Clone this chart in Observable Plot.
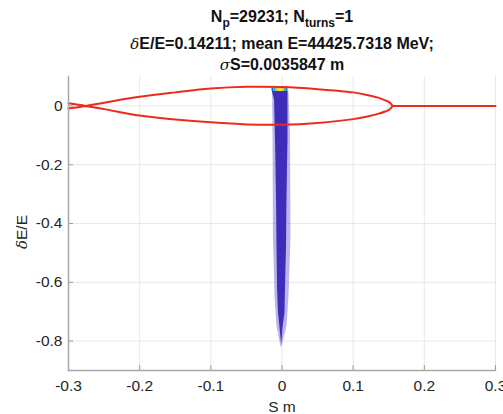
<!DOCTYPE html>
<html><head><meta charset="utf-8">
<script src="https://cdn.jsdelivr.net/npm/d3@7"></script>
<script src="https://cdn.jsdelivr.net/npm/@observablehq/plot@0.6"></script>
<style>
body{margin:0;background:#fff;}
#wrap{position:relative;width:503px;height:414px;overflow:hidden;font-family:"Liberation Sans",Arial,Helvetica,sans-serif;color:#262626;}
.tl{position:absolute;left:0;width:564px;text-align:center;font-weight:bold;font-size:16px;line-height:16px;white-space:nowrap;color:#111;}
.tl sub{font-size:12px;vertical-align:-5px;line-height:0;}
.g{font-family:"DejaVu Serif","Liberation Serif",serif;font-style:italic;font-weight:normal;font-size:15px;}
#xl{position:absolute;left:0;width:564px;text-align:center;top:399px;font-size:15.5px;line-height:16px;}
#yl{position:absolute;left:10px;top:230px;width:60px;text-align:center;font-size:15.5px;line-height:16px;transform-origin:0 0;transform:translate(4px,32px) rotate(-90deg);}
svg{position:absolute;left:0;top:0;}
</style>
</head><body>
<div id="wrap"></div>
<script>
// Axis ticks
const xTicks = [-0.3, -0.2, -0.1, 0, 0.1, 0.2, 0.3];
const yTicks = [0, -0.2, -0.4, -0.6, -0.8];

// Separatrix: s positions, upper and lower branch δE/E
const sepS     = [-0.3, -0.276, -0.25, -0.2, -0.15, -0.1, -0.05, 0, 0.05, 0.1, 0.12, 0.135, 0.145, 0.151, 0.155];
const sepUpper = [-0.009, 0, 0.011, 0.031, 0.046, 0.059, 0.065, 0.064, 0.057, 0.046, 0.037, 0.028, 0.019, 0.012, 0];
const sepLower = [0.009, 0, -0.011, -0.033, -0.046, -0.056, -0.063, -0.064, -0.058, -0.045, -0.036, -0.027, -0.019, -0.012, 0];
// Flat tail to the right of the bucket
const tailS = [0.155, 0.3];
const tailD = [0, 0];

// Particle cloud profile (dense core): δE/E and left/right extent in S
const cloudD = [0.049, 0.02, -0.114, -0.316, -0.485, -0.62, -0.704, -0.754, -0.81];
const cloudL = [-0.0135, -0.0105, -0.0091, -0.0077, -0.007, -0.0063, -0.0049, -0.0028, -0.0006];
const cloudR = [0.0085, 0.0084, 0.0084, 0.007, 0.0063, 0.0049, 0.0042, 0.0014, -0.0004];
// Sparse outer fringe
const fringeD = [0.05, -0.1, -0.45, -0.65, -0.75, -0.82];
const fringeL = [-0.0133, -0.0126, -0.012, -0.0098, -0.007, -0.0014];
const fringeR = [0.0098, 0.012, 0.0126, 0.0098, 0.007, 0.0];
// Dense top band cells (density 0..1)
const binW = 0.0028;
const topS = [-0.0127, -0.0098, -0.0070, -0.0042, -0.0014, 0.0014, 0.0042, 0.0070];
const topDensity = [0.2, 0.45, 0.7, 0.9, 0.97, 0.85, 0.55, 0.25];
const topD1 = 0.049, topD2 = 0.061;

const parulaDomain = [0, 0.125, 0.25, 0.375, 0.5, 0.625, 0.75, 0.875, 1];
const parulaRange = ["#3e26a8", "#0f5cdd", "#1481d6", "#06a4ca", "#2eb7a4", "#87bf77", "#d1bb59", "#fec832", "#f9fb0e"];

const sepPath = sepS.map((s, i) => ({s, d: sepUpper[i]}))
  .concat(sepS.map((s, i) => ({s, d: sepLower[i]})).slice(0, -1).reverse());
const tailRows = tailS.map((s, i) => ({s, d: tailD[i]}));
const cloudRows = cloudD.map((d, i) => ({d, l: cloudL[i], r: cloudR[i]}));
const fringeRows = fringeD.map((d, i) => ({d, l: fringeL[i], r: fringeR[i]}));
const topRows = topS.map((s, i) => ({s1: s - binW / 2, s2: s + binW / 2, v: topDensity[i]}));

const fmt = d => String(d);
const red = "#ee2a1c";
const blue = "#3f2db9";

const chart = Plot.plot({
  width: 503, height: 414,
  marginTop: 76, marginBottom: 44, marginLeft: 68, marginRight: 8,
  x: {domain: [-0.3, 0.3]},
  y: {domain: [-0.9, 0.1]},
  color: {type: "linear", domain: parulaDomain, range: parulaRange},
  style: {fontFamily: "Liberation Sans, Arial, sans-serif", fontSize: "15.5px", color: "#262626", background: "transparent", overflow: "visible"},
  marks: [
    Plot.gridX(xTicks, {stroke: "#e8e8e8", strokeOpacity: 1}),
    Plot.gridY(yTicks, {stroke: "#e8e8e8", strokeOpacity: 1}),
    Plot.areaX(fringeRows, {y: "d", x1: "l", x2: "r", fill: "#6a5cd0", fillOpacity: 0.45}),
    Plot.areaX(cloudRows, {y: "d", x1: "l", x2: "r", fill: blue}),
    Plot.rect(topRows, {x1: "s1", x2: "s2", y1: topD1, y2: topD2, fill: "v"}),
    Plot.line(sepPath, {x: "s", y: "d", stroke: red, strokeWidth: 2, curve: "catmull-rom"}),
    Plot.line(tailRows, {x: "s", y: "d", stroke: red, strokeWidth: 2}),
    Plot.axisX(xTicks, {tickSize: 0, tickPadding: 9, tickFormat: fmt, label: null}),
    Plot.axisX(xTicks, {tickSize: 5, text: null, dy: -5, stroke: "#9a9a9a", label: null}),
    Plot.axisY(yTicks, {tickSize: 0, tickPadding: 6, tickFormat: fmt, label: null}),
    Plot.axisY(yTicks, {tickSize: 5, text: null, dx: 5, stroke: "#9a9a9a", label: null}),
    Plot.frame({anchor: "left", stroke: "#a8a8a8", strokeWidth: 1.5}),
    Plot.frame({anchor: "bottom", stroke: "#a8a8a8", strokeWidth: 1.5})
  ]
});

const wrap = document.getElementById("wrap");
wrap.appendChild(chart);
wrap.insertAdjacentHTML("beforeend",
  '<div class="tl" style="top:9px">N<sub>p</sub>=29231; N<sub>turns</sub>=1</div>' +
  '<div class="tl" style="top:36px"><span class="g">δ</span>E/E=0.14211; mean E=44425.7318 MeV;</div>' +
  '<div class="tl" style="top:57px"><span class="g">σ</span>S=0.0035847 m</div>' +
  '<div id="xl">S m</div>' +
  '<div id="yl"><span class="g">δ</span>E/E</div>');
</script>
</body></html>
